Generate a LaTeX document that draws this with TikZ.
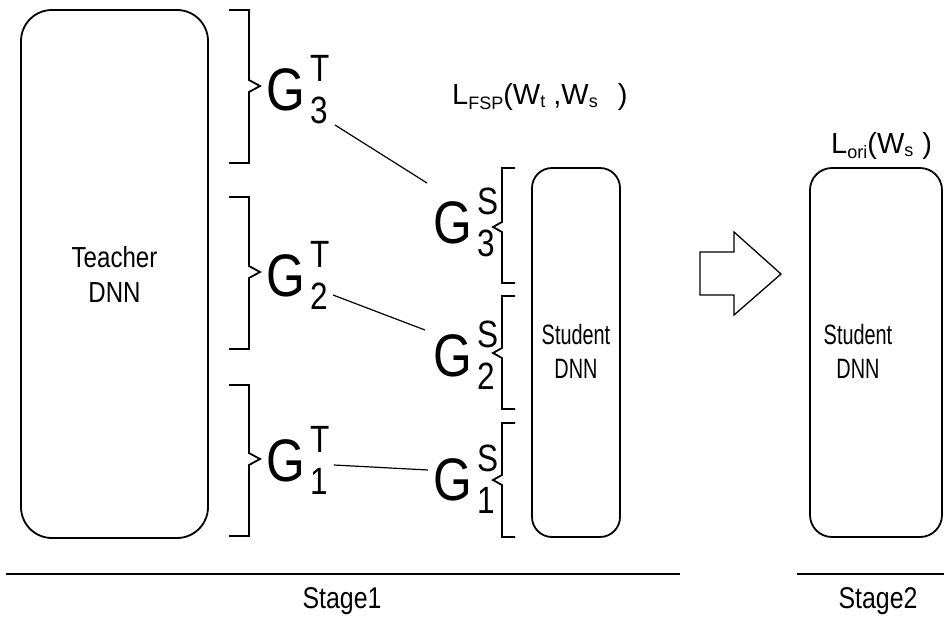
\documentclass[tikz,border=0pt]{standalone}
\usepackage{fontspec}
\setmainfont[FakeStretch=0.83]{Liberation Sans}
\newfontfamily\lossfont{Liberation Sans}
\newfontfamily\narrowfont[FakeStretch=0.71]{Liberation Sans}
\newcommand\fsz[1]{\fontsize{#1}{#1}\selectfont}
\newcommand\Glab[2]{\fsz{60}G\hspace{6pt}\rlap{\raisebox{29pt}{\fsz{38}#1}}\raisebox{-13pt}{\fsz{38}#2}}
\begin{document}
\begin{tikzpicture}[x=1pt,y=-1pt,
  box/.style={draw,line width=1.8pt,rounded corners=#1,inner sep=0pt},
  brk/.style={line width=1.8pt},
  conn/.style={line width=1.2pt},
  lab/.style={anchor=base west,inner sep=0pt},
  dtext/.style={align=center,font=\fsz{29},inner sep=0pt},
  stext/.style={align=center,font=\narrowfont\fsz{28},inner sep=0pt}]
\useasboundingbox (0,0) rectangle (944,619);
% boxes
\node[box=31pt,minimum width=187pt,minimum height=528pt] (teacher) at (114.5,274) {};
\node[dtext] (teachertxt) at (114.5,274) {Teacher\\[6pt]DNN};
\node[box=20pt,minimum width=88pt,minimum height=369pt] (student) at (576,352.5) {};
\node[stext] (studenttxt) at (576,351) {Student\\[6pt]DNN};
\node[box=22pt,minimum width=132pt,minimum height=369pt] (student2) at (876,352.5) {};
\node[stext] (student2txt) at (858,351) {Student\\[6pt]DNN};
% teacher brackets
\draw[brk] (229,10) -- (249,10) -- (249,80) -- (260,86) -- (249,92) -- (249,163) -- (229,163);
\draw[brk] (229,197) -- (249,197) -- (249,266) -- (260,272) -- (249,278) -- (249,349) -- (229,349);
\draw[brk] (229,385) -- (249,385) -- (249,453) -- (260,459) -- (249,465) -- (249,536) -- (229,536);
% student brackets
\draw[brk] (515,168) -- (502,168) -- (502,222) -- (493,227) -- (502,232) -- (502,283) -- (515,283);
\draw[brk] (515,296) -- (502,296) -- (502,348) -- (493,353) -- (502,358) -- (502,409) -- (515,409);
\draw[brk] (515,423) -- (502,423) -- (502,475) -- (493,480) -- (502,485) -- (502,537) -- (515,537);
% G labels
\node[lab] (g3t) at (266,110) {\Glab{T}{3}};
\node[lab] (g2t) at (266,296) {\Glab{T}{2}};
\node[lab] (g1t) at (266,481) {\Glab{T}{1}};
\node[lab] (g3s) at (433,243) {\Glab{S}{3}};
\node[lab] (g2s) at (433,376) {\Glab{S}{2}};
\node[lab] (g1s) at (433,500) {\Glab{S}{1}};
% connector end points
\coordinate (c3a) at (335,125); \coordinate (c3b) at (427,183);
\coordinate (c2a) at (333,295); \coordinate (c2b) at (425,330);
\coordinate (c1a) at (334,465); \coordinate (c1b) at (428,470);
\draw[conn] (c3a) -- (c3b);
\draw[conn] (c2a) -- (c2b);
\draw[conn] (c1a) -- (c1b);
% loss labels
\node[lab] (lfsp) at (452,104) {\lossfont\fsz{29}L\raisebox{-5pt}{\fsz{18}FSP}(W\raisebox{-3pt}{\fsz{18}t}\hspace{8pt},W\raisebox{-3pt}{\fsz{18}s}\hspace{20pt})};
\node[lab] (lori) at (831,153) {\lossfont\fsz{29}L\raisebox{-5pt}{\fsz{18}ori}(W\raisebox{-3pt}{\fsz{18}s}\hspace{9pt})};
% big arrow
\draw[line width=1.3pt] (700,252) -- (734,252) -- (734,232) -- (781,274) -- (734,315) -- (734,295) -- (700,295) -- cycle;
% stage lines
\draw[line width=1.8pt] (6,574) -- (680,574);
\draw[line width=1.8pt] (797,574) -- (944,574);
\node[anchor=base,inner sep=0pt,font=\fsz{30}] (stage1) at (342,608) {Stage1};
\node[anchor=base,inner sep=0pt,font=\fsz{30}] (stage2) at (878,608) {Stage2};
\end{tikzpicture}
\end{document}
